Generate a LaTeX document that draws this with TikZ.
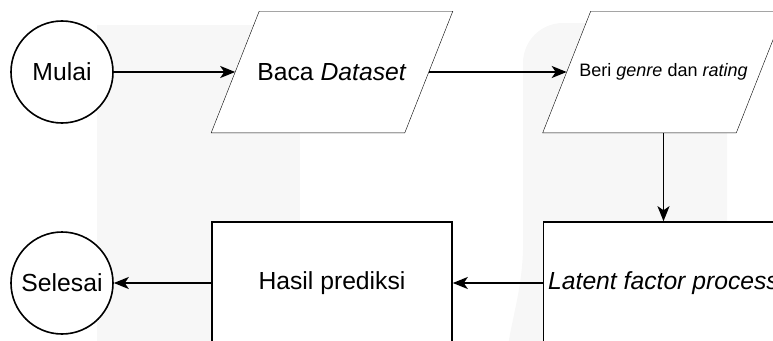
\documentclass[tikz,border=0pt]{standalone}
\usepackage{fontspec}
\setmainfont{Liberation Sans}
\usetikzlibrary{arrows.meta,backgrounds}

\begin{document}
\begin{tikzpicture}[x=1pt,y=-1pt,
  line width=1.6pt,
  font=\fontsize{24.7}{30}\selectfont,
  terminal/.style={draw, circle, fill=white, minimum size=102pt, inner sep=1pt},
  datain/.style={rectangle, minimum width=192pt, minimum height=120pt, inner sep=0pt},
  process/.style={draw, rectangle, fill=white, minimum width=240pt, minimum height=122pt},
  flow/.style={-{Stealth[length=15pt,width=12pt,inset=4pt]}},
  faint/.style={fill=black!3, draw=none}]

\useasboundingbox (0,0) rectangle (773,340);

\node [terminal] (mulai) at (62,72) {Mulai};
\node [datain] (baca) at (332,72) {Baca \textit{Dataset}};
\node [datain] (beri) at (663.5,72) {\fontsize{18}{22}\selectfont Beri \textit{genre} dan \textit{rating}};
\node [process] (latent) at (663.5,283) {\textit{Latent factor process}};
\node [process] (hasil) at (332,283) {Hasil prediksi};
\node [terminal] (selesai) at (62,283) {Selesai};

\begin{scope}[on background layer]
\fill [faint] (97,25) rectangle (300,345);
\fill [faint] (523,63) to[out=90,in=180] (563,23) -- (727,23) -- (727,345) -- (508,345) to[out=80,in=268] (523,250) -- cycle;
\foreach \n in {baca,beri}
  \draw [fill=white] ([xshift=24pt]\n.north west) -- ([xshift=24pt]\n.north east)
    -- ([xshift=-24pt]\n.south east) -- ([xshift=-24pt]\n.south west) -- cycle;
\end{scope}

\draw [flow] (mulai) -- (baca);
\draw [flow] (baca) -- (beri);
\draw [flow] (beri) -- (latent);
\draw [flow] (latent) -- (hasil);
\draw [flow] (hasil) -- (selesai);

\end{tikzpicture}
\end{document}
